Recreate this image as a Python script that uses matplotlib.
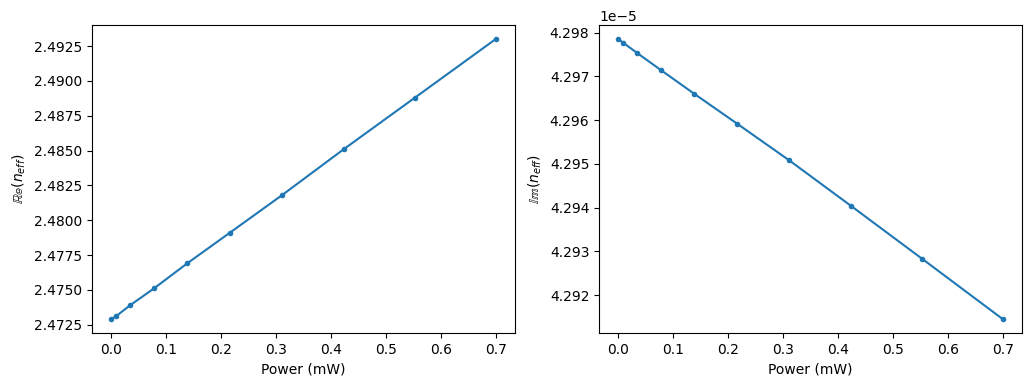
import numpy as np
import matplotlib.pyplot as plt

# Power sweep (mW) and effective index
power = [0.0, 0.0086, 0.0346, 0.0778, 0.1383, 0.2160, 0.3111, 0.4235, 0.5531, 0.7000]
re_neff = [2.4729, 2.4731, 2.4739, 2.4751, 2.4769, 2.4791, 2.4818, 2.4851, 2.4888, 2.4930]
im_neff = [4.29785e-5, 4.29777e-5, 4.29753e-5, 4.29714e-5, 4.29660e-5, 4.29592e-5,
           4.29508e-5, 4.29404e-5, 4.29283e-5, 4.29145e-5]

fig, (ax1, ax2) = plt.subplots(1, 2, figsize=(10.3, 3.86), dpi=100)
fig.subplots_adjust(left=0.0893, right=0.9922, top=0.935, bottom=0.137, wspace=0.199)

ax1.plot(power, re_neff, '.-')
ax1.set_xlabel('Power (mW)')
ax1.set_ylabel(r'$\mathbb{Re}(n_{eff})$')

ax2.plot(power, im_neff, '.-')
ax2.set_xlabel('Power (mW)')
ax2.set_ylabel(r'$\mathbb{Im}(n_{eff})$')

fig.savefig('out.png')
